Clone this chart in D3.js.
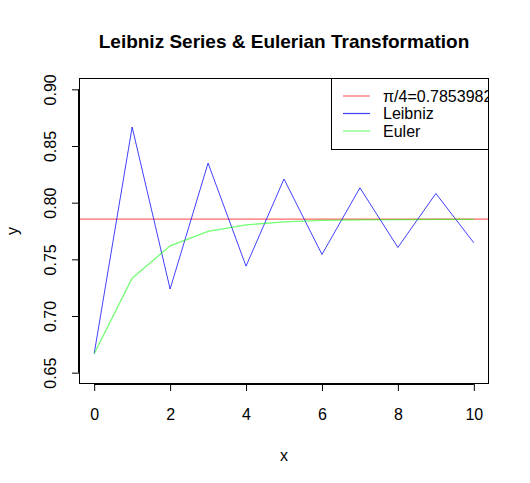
<!DOCTYPE html>
<html><head><meta charset="utf-8">
<script src="https://cdn.jsdelivr.net/npm/d3@7"></script>
<style>body{margin:0;background:#fff}svg{display:block}text{font-family:"Liberation Sans",Arial,Helvetica,sans-serif}</style>
</head><body><svg id="c" width="530" height="483"></svg>
<script>
const xs = [0,1,2,3,4,5,6,7,8,9,10];
const leibniz = [0.6667,0.8667,0.7238,0.8349,0.7440,0.8209,0.7543,0.8131,0.7605,0.8081,0.7646];
const euler = [0.6667,0.7333,0.7619,0.7746,0.7804,0.7830,0.7843,0.7849,0.7851,0.7853,0.7853];
const piQuarter = 0.7853982;
const xTicks = [0,2,4,6,8,10];
const yTicks = [0.65,0.70,0.75,0.80,0.85,0.90];
const legendLabels = ["π/4=0.7853982","Leibniz","Euler"];
const colors = ["rgba(255,0,0,0.6)","rgba(0,0,255,0.75)","rgba(0,255,0,0.55)"];

const svg = d3.select("#c");
const L=79,R=489,T=78,B=384;
const FS = "16px";
const x = d3.scaleLinear().domain([-0.4,10.4]).range([L,R]);
const y = d3.scaleLinear().domain([0.64,0.91]).range([B,T]);

svg.append("defs").append("clipPath").attr("id","clip").append("rect")
  .attr("x",L).attr("y",T).attr("width",R-L).attr("height",B-T);

// title
svg.append("text").attr("x",(L+R)/2).attr("y",48).attr("text-anchor","middle")
  .style("font-weight","bold").style("font-size","19px").text("Leibniz Series & Eulerian Transformation");

// x axis
const xa = svg.append("g").attr("transform",`translate(0,${B})`)
  .call(d3.axisBottom(x).tickValues(xTicks).tickSize(7).tickPadding(18).tickFormat(d3.format("d")));
xa.select(".domain").attr("d",`M${x(0)},0.5H${x(10)}`);
// y axis
const ya = svg.append("g").attr("transform",`translate(${L},0)`)
  .call(d3.axisLeft(y).tickValues(yTicks).tickSize(7).tickFormat(d3.format(".2f")));
ya.select(".domain").attr("d",`M-0.5,${y(0.65)}V${y(0.90)}`);
ya.selectAll(".tick text").attr("transform","rotate(-90)").attr("x",0).attr("y",-23).attr("dy","0").attr("text-anchor","middle");
[xa,ya].forEach(a=>{a.selectAll("text").style("font-size",FS).attr("fill","#000");a.selectAll("line,path").attr("stroke","#000");});
xa.selectAll(".tick text").attr("dy","0.71em");

svg.append("text").attr("x",(L+R)/2).attr("y",461).attr("text-anchor","middle").style("font-size",FS).text("x");
svg.append("text").attr("transform",`translate(18,${(T+B)/2}) rotate(-90)`).attr("text-anchor","middle").style("font-size",FS).text("y");

const g = svg.append("g").attr("clip-path","url(#clip)");
g.append("line").attr("x1",L).attr("x2",R).attr("y1",y(piQuarter)).attr("y2",y(piQuarter))
  .attr("stroke",colors[0]).attr("stroke-width",1.2);
const line = d3.line().x((d,i)=>x(xs[i])).y(d=>y(d));
g.append("path").datum(leibniz).attr("d",line).attr("fill","none").attr("stroke",colors[1]).attr("stroke-width",1);
g.append("path").datum(euler).attr("d",line).attr("fill","none").attr("stroke",colors[2]).attr("stroke-width",1.3);

// legend
const lg = g.append("g");
lg.append("rect").attr("x",331.5).attr("y",T+0.5).attr("width",170).attr("height",71).attr("fill","#fff").attr("stroke","#000");
legendLabels.forEach((t,i)=>{
  const yy = 96 + i*17.5;
  lg.append("line").attr("x1",343).attr("x2",370).attr("y1",yy).attr("y2",yy).attr("stroke",colors[i]).attr("stroke-width",1.2);
  lg.append("text").attr("x",383).attr("y",yy).attr("dy","0.35em").style("font-size",FS).text(t);
});

svg.append("rect").attr("x",L+0.5).attr("y",T+0.5).attr("width",R-L-1).attr("height",B-T-1)
  .attr("fill","none").attr("stroke","#000");
</script></body></html>
